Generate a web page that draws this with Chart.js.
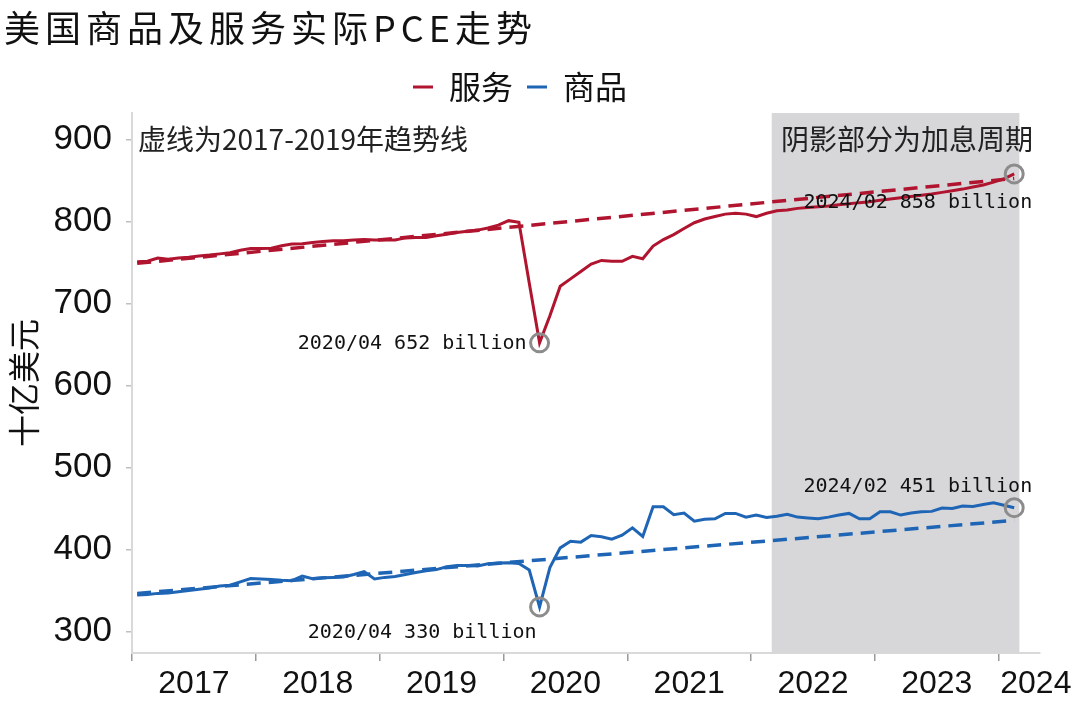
<!DOCTYPE html>
<html>
<head>
<meta charset="utf-8">
<script src="https://cdn.jsdelivr.net/npm/chart.js@4.4.1/dist/chart.umd.min.js"></script>
<style>
  html, body { margin: 0; padding: 0; background: #fff; }
  canvas { display: block; }
</style>
</head>
<body>
<canvas id="pce" width="1080" height="704"></canvas>
<script>
// monthly real PCE, billions, 2017/01 .. 2024/02
const firstYear = 2017;
const yearLabels = ['2017', '2018', '2019', '2020', '2021', '2022', '2023', '2024'];
const yTicks = [300, 400, 500, 600, 700, 800, 900];

const services = [
  751, 751.5, 755.5, 754, 755.5, 756.5, 758, 759, 760.5, 762, 765, 767,
  767, 767.5, 770.5, 772.5, 773, 774.5, 775.5, 776.5, 776.5, 777.5, 778, 777.5,
  777.5, 777.5, 780, 780.5, 780.5, 782.5, 784.5, 786.5, 788, 789.5, 792, 795.5,
  801, 799, 725, 652, 685, 721, 730, 739, 748, 752.5, 751.5, 751.5,
  757.5, 754.5, 770, 778, 784, 791.5, 798.5, 803, 806, 809, 810, 809,
  806, 810, 813, 814, 816, 817, 818, 819, 820.5, 821.5, 823, 824,
  826, 827.5, 829, 830.5, 832, 833.5, 835.5, 837.5, 839.5, 842, 844.5, 848,
  852, 858
];
const goods = [
  344.5, 345, 346.5, 347, 348.5, 350, 351.5, 353, 355.5, 356.5, 360.5, 364.5,
  364, 363.5, 362.5, 362, 367.5, 364.5, 365.5, 366, 366.5, 369.5, 373, 364,
  366, 367, 369.5, 372, 374, 375.5, 379, 380.5, 380.5, 380, 382.5, 383.5,
  384, 383, 375, 330, 378, 402, 410, 409, 417, 415.5, 412.5, 417.5,
  426.5, 416, 452, 452, 442.5, 444.5, 434.5, 437, 437.5, 444, 444, 439.5,
  442, 439, 440.5, 443, 439.5, 438.5, 437.5, 439.5, 442, 444, 437.5, 437.5,
  446, 446, 442, 444.5, 446, 446.5, 450.5, 450, 453, 452.5, 455, 457,
  454, 451
];

// 2017-2019 trend lines, start and end month
const trendMonths = [0, 85];
const trendServices = [749, 852.5];
const trendGoods = [346.5, 435.5];

// marked months: 2020/04 trough and latest
const markMonths = [39, 85];

// rate hike period: 2022/03 .. 2024/02
const hikeStart = 62;
const hikeEnd = 86;

const RED = '#b0142f';
const BLUE = '#1f65b5';
const CJK = '"Noto Sans CJK SC", "Noto Sans", sans-serif';

const pts = arr => arr.map((v, i) => ({ x: i + 0.5, y: v }));
const trendPts = arr => arr.map((v, k) => ({ x: trendMonths[k] + 0.5, y: v }));
const monthName = i => `${firstYear + Math.floor(i / 12)}/${String(i % 12 + 1).padStart(2, '0')}`;

const markPts = [];
[services, goods].forEach(s => markMonths.forEach(m => markPts.push({ x: m + 0.5, y: s[m] })));

const shadePlugin = {
  id: 'shade',
  beforeDatasetsDraw(chart) {
    const { ctx, chartArea, scales } = chart;
    const x0 = scales.x.getPixelForValue(hikeStart);
    const x1 = scales.x.getPixelForValue(hikeEnd);
    ctx.save();
    ctx.fillStyle = '#d7d7da';
    ctx.fillRect(x0, chartArea.top, x1 - x0, chartArea.bottom - chartArea.top);
    ctx.restore();
  }
};

const textPlugin = {
  id: 'texts',
  afterDraw(chart) {
    const { ctx, chartArea, scales } = chart;
    ctx.save();
    // title
    ctx.fillStyle = '#111';
    ctx.font = '36px ' + CJK;
    ctx.textBaseline = 'middle';
    ctx.textAlign = 'left';
    ctx.letterSpacing = '5px';
    ctx.fillText('美国商品及服务实际PCE走势', 4, 28);
    ctx.letterSpacing = '0px';

    // notes
    ctx.font = '28px ' + CJK;
    ctx.fillStyle = '#222';
    ctx.fillText('虚线为2017-2019年趋势线', chartArea.left + 6, scales.y.getPixelForValue(900));
    ctx.textAlign = 'right';
    ctx.fillText('阴影部分为加息周期', chartArea.right - 7, scales.y.getPixelForValue(900));

    // value labels next to the marked points
    ctx.font = '20px "DejaVu Sans Mono", "Liberation Mono", monospace';
    ctx.fillStyle = '#111';
    const lab = (s, m, dx, dy) => {
      const x = scales.x.getPixelForValue(m + 0.5);
      const y = scales.y.getPixelForValue(s[m]);
      ctx.fillText(`${monthName(m)} ${Math.round(s[m])} billion`, x + dx, y + dy);
    };
    lab(services, markMonths[0], -13, 1);
    lab(goods, markMonths[0], -3, 26);
    lab(services, markMonths[1], 18, 29);
    lab(goods, markMonths[1], 18, -21);
    ctx.restore();
  }
};

new Chart(document.getElementById('pce'), {
  type: 'line',
  data: {
    datasets: [
      {
        label: 'mark', data: markPts, showLine: false,
        pointRadius: 9, pointHoverRadius: 9, pointBorderWidth: 3,
        pointBorderColor: '#8c8c8c', pointBackgroundColor: 'rgba(0,0,0,0)'
      },
      {
        label: 'trendS', data: trendPts(trendServices), borderColor: RED,
        borderWidth: 3.5, borderDash: [14, 8], pointRadius: 0
      },
      {
        label: 'trendG', data: trendPts(trendGoods), borderColor: BLUE,
        borderWidth: 3.5, borderDash: [14, 8], pointRadius: 0
      },
      {
        label: '服务', data: pts(services), borderColor: RED, backgroundColor: RED,
        borderWidth: 3, pointRadius: 0, tension: 0
      },
      {
        label: '商品', data: pts(goods), borderColor: BLUE, backgroundColor: BLUE,
        borderWidth: 3, pointRadius: 0, tension: 0
      }
    ]
  },
  options: {
    responsive: false,
    animation: false,
    devicePixelRatio: 1,
    layout: { padding: { top: 57, right: 40, left: 0, bottom: 0 } },
    plugins: {
      legend: {
        display: true,
        position: 'top',
        labels: {
          filter: item => item.text === '服务' || item.text === '商品',
          usePointStyle: true,
          pointStyle: 'line',
          pointStyleWidth: 20,
          boxHeight: 4,
          padding: 14,
          color: '#111',
          font: { family: CJK, size: 32 }
        }
      },
      tooltip: { enabled: false }
    },
    scales: {
      x: {
        type: 'linear', min: 0, max: 88, weight: 1,
        afterBuildTicks: s => {
          s.ticks = yearLabels.map((y, k) => ({ value: k < 7 ? k * 12 + 6 : 87.6 }));
        },
        afterFit: s => { s.height = 43; },
        grid: { display: false },
        border: { display: false },
        ticks: {
          autoSkip: false, maxRotation: 0, padding: -4, color: '#111',
          font: { family: '"Liberation Sans", Arial, sans-serif', size: 32 },
          callback: (v, i) => yearLabels[i]
        }
      },
      x2: {
        type: 'linear', position: 'bottom', min: 0, max: 88, weight: 0,
        afterBuildTicks: s => {
          s.ticks = yearLabels.map((y, k) => ({ value: k * 12 }));
        },
        afterFit: s => { s.height = 8; },
        grid: { display: true, drawOnChartArea: false, drawTicks: true, tickLength: 8, color: '#9a9a9a', lineWidth: 1.5 },
        border: { display: true, color: '#d9d9d9', width: 2 },
        ticks: { display: false }
      },
      y: {
        type: 'linear', min: 273.8, max: 932.3,
        afterBuildTicks: s => { s.ticks = yTicks.map(v => ({ value: v })); },
        afterFit: s => { s.width = 132; },
        grid: { display: true, drawOnChartArea: false, drawTicks: true, tickLength: 6, color: '#bfbfbf', lineWidth: 1.5 },
        border: { display: true, color: '#d9d9d9', width: 2 },
        ticks: {
          padding: 14, color: '#111',
          font: { family: '"Liberation Sans", Arial, sans-serif', size: 35 }
        },
        title: {
          display: true, text: '十亿美元', color: '#111', padding: 5,
          font: { family: CJK, size: 32 }
        }
      }
    }
  },
  plugins: [shadePlugin, textPlugin]
});
</script>
</body>
</html>
